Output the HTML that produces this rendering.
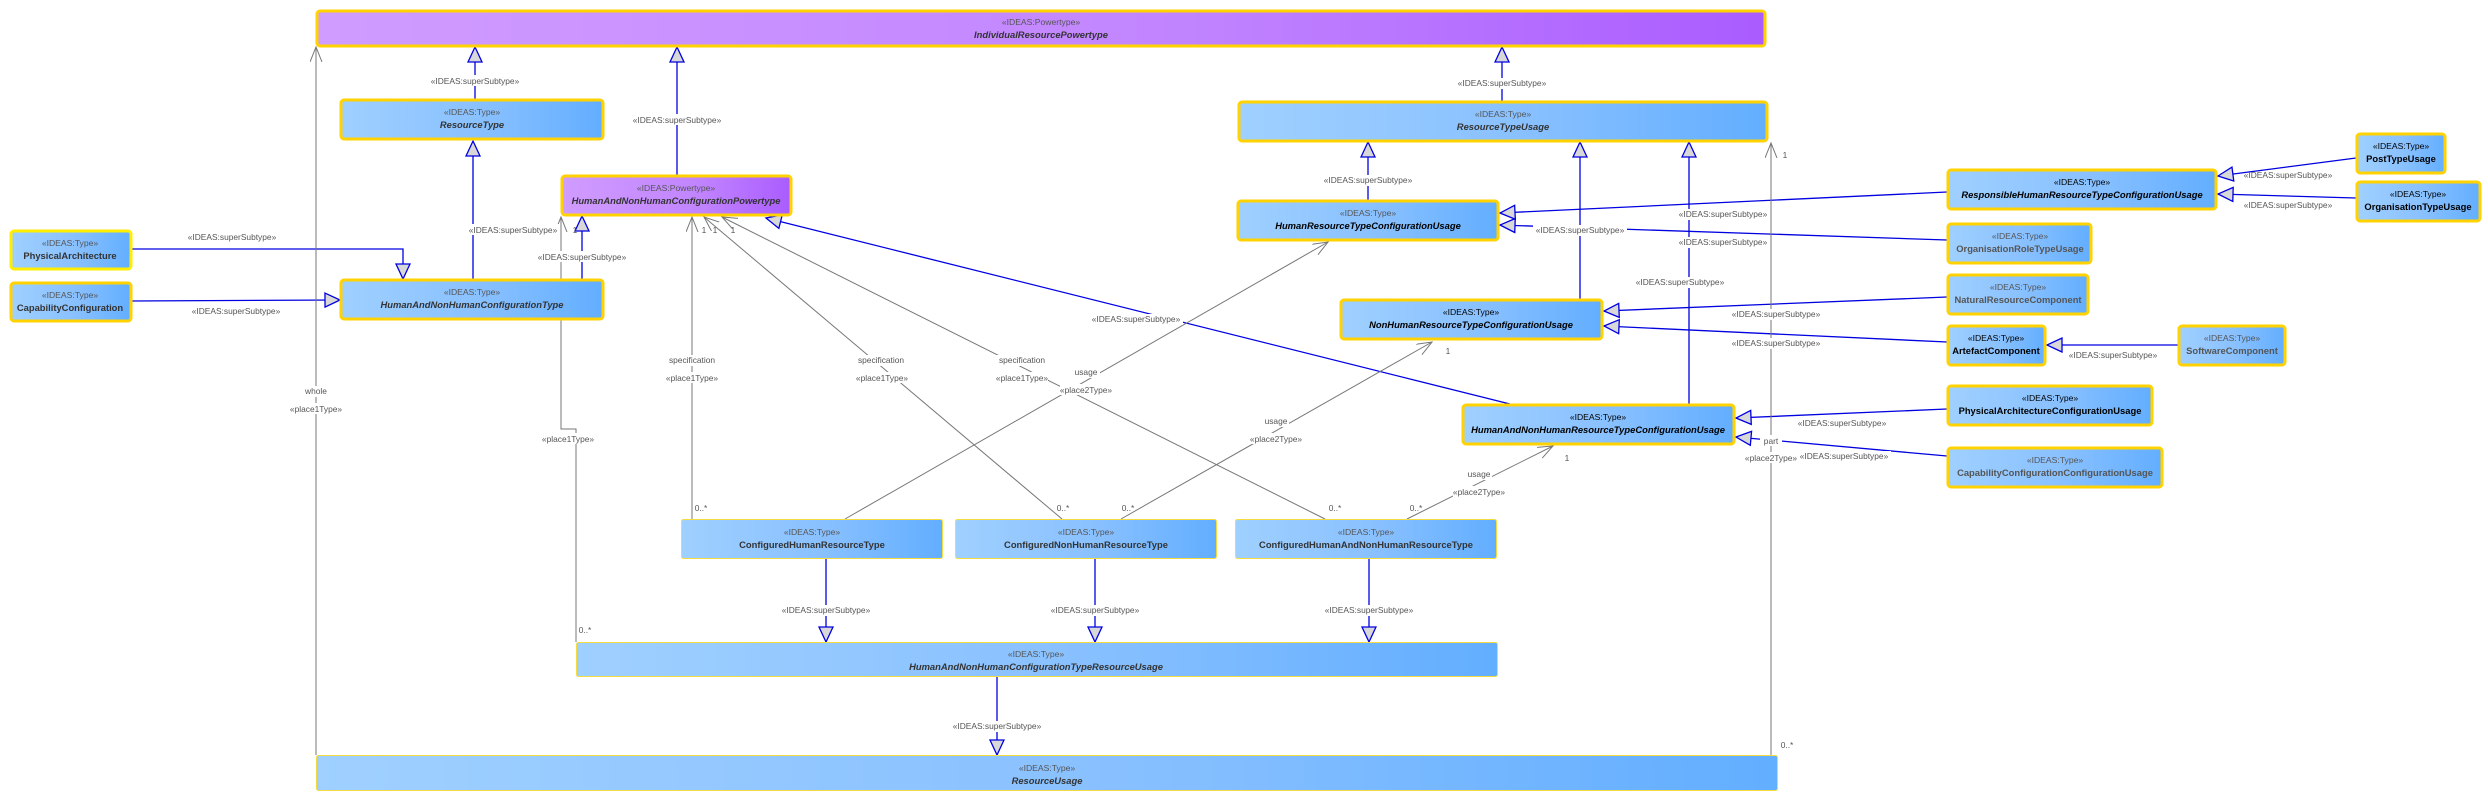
<!DOCTYPE html>
<html><head><meta charset="utf-8"><style>
html,body{margin:0;padding:0;background:#fff;}
svg{display:block;}
text{font-family:"Liberation Sans",sans-serif;}
.st{font-size:8.6px;fill:#555;text-anchor:middle;}
.nm{font-size:9.4px;fill:#333;text-anchor:middle;font-weight:bold;}
.it{font-style:italic;}
.blk{fill:#000;}
.lb{font-size:8.4px;fill:#555;text-anchor:middle;}
.g{stroke:#0000e0;stroke-width:1.3;fill:none;}
.a{stroke:#777;stroke-width:1;fill:none;}
</style></head><body>
<svg width="2488" height="801" viewBox="0 0 2488 801" xmlns="http://www.w3.org/2000/svg">
<defs>
<linearGradient id="bl" x1="0" x2="1" y1="0" y2="0"><stop offset="0" stop-color="#9fd0ff"/><stop offset="0.55" stop-color="#88c0ff"/><stop offset="1" stop-color="#62aeff"/></linearGradient>
<linearGradient id="pu" x1="0" x2="1" y1="0" y2="0"><stop offset="0" stop-color="#d09cff"/><stop offset="0.6" stop-color="#c184ff"/><stop offset="1" stop-color="#aa5cff"/></linearGradient>
<marker id="tri" markerUnits="userSpaceOnUse" markerWidth="20" markerHeight="18" refX="16" refY="8" orient="auto"><path d="M1,1 L16,8 L1,15 z" fill="#d8d8d8" stroke="#0000e0" stroke-width="1.3"/></marker>
<marker id="opn" markerUnits="userSpaceOnUse" markerWidth="18" markerHeight="14" refX="15" refY="6" orient="auto"><path d="M0,0 L15,6 L0,12" fill="none" stroke="#777" stroke-width="1"/></marker>
</defs>

<!-- generalizations -->
<g class="g" marker-end="url(#tri)">
<line x1="475" y1="99" x2="475" y2="47"/>
<line x1="677" y1="175" x2="677" y2="47"/>
<line x1="473" y1="279" x2="473" y2="141"/>
<polyline points="131,249 403,249 403,279"/>
<line x1="131" y1="301" x2="340" y2="300"/>
<line x1="582" y1="279" x2="582" y2="216"/>
<line x1="1502" y1="101" x2="1502" y2="47"/>
<line x1="1368" y1="200" x2="1368" y2="142"/>
<line x1="1580" y1="299" x2="1580" y2="142"/>
<line x1="1689" y1="404" x2="1689" y2="142"/>
<line x1="1510" y1="404" x2="766" y2="218"/>
<line x1="1947" y1="192" x2="1500" y2="213"/>
<line x1="1947" y1="240" x2="1500" y2="225"/>
<line x1="1947" y1="297" x2="1604" y2="311"/>
<line x1="1947" y1="342" x2="1604" y2="326"/>
<line x1="2178" y1="345" x2="2047" y2="345"/>
<line x1="2356" y1="158" x2="2218" y2="176"/>
<line x1="2356" y1="198" x2="2218" y2="194"/>
<line x1="1947" y1="409" x2="1736" y2="418"/>
<line x1="1947" y1="456" x2="1736" y2="437"/>
<line x1="826" y1="559" x2="826" y2="642"/>
<line x1="1095" y1="559" x2="1095" y2="642"/>
<line x1="1369" y1="559" x2="1369" y2="642"/>
<line x1="997" y1="676" x2="997" y2="755"/>
</g>

<!-- associations -->
<g class="a" marker-end="url(#opn)">
<line x1="316" y1="755" x2="316" y2="47"/>
<polyline points="576,642 576,429 561,429 561,217"/>
<line x1="692" y1="519" x2="692" y2="217"/>
<line x1="1062" y1="519" x2="704" y2="217"/>
<line x1="1325" y1="519" x2="722" y2="217"/>
<line x1="845" y1="519" x2="1328" y2="242"/>
<line x1="1121" y1="519" x2="1432" y2="342"/>
<line x1="1407" y1="519" x2="1553" y2="446"/>
<line x1="1771" y1="755" x2="1771" y2="143"/>
</g>

<!-- boxes -->
<g stroke="#ffd200" stroke-width="3">
<rect x="317" y="11" width="1448" height="35" rx="3" fill="url(#pu)"/>
<rect x="341" y="100" width="262" height="39" rx="3" fill="url(#bl)"/>
<rect x="562" y="176" width="229" height="39" rx="3" fill="url(#pu)"/>
<rect x="11" y="231" width="120" height="38" rx="3" fill="url(#bl)" stroke="#ffee00"/>
<rect x="11" y="283" width="120" height="38" rx="3" fill="url(#bl)"/>
<rect x="341" y="280" width="262" height="39" rx="3" fill="url(#bl)"/>
<rect x="1239" y="102" width="528" height="39" rx="3" fill="url(#bl)"/>
<rect x="1238" y="201" width="260" height="39" rx="3" fill="url(#bl)"/>
<rect x="1341" y="300" width="261" height="39" rx="3" fill="url(#bl)"/>
<rect x="1463" y="405" width="271" height="39" rx="3" fill="url(#bl)"/>
<rect x="1948" y="170" width="268" height="39" rx="3" fill="url(#bl)"/>
<rect x="2357" y="134" width="88" height="39" rx="3" fill="url(#bl)"/>
<rect x="2357" y="182" width="123" height="39" rx="3" fill="url(#bl)"/>
<rect x="1948" y="224" width="143" height="39" rx="3" fill="url(#bl)"/>
<rect x="1948" y="275" width="140" height="39" rx="3" fill="url(#bl)"/>
<rect x="1948" y="326" width="97" height="39" rx="3" fill="url(#bl)"/>
<rect x="2179" y="326" width="106" height="39" rx="3" fill="url(#bl)"/>
<rect x="1948" y="386" width="204" height="39" rx="3" fill="url(#bl)"/>
<rect x="1948" y="448" width="214" height="39" rx="3" fill="url(#bl)"/>
</g>
<g stroke="#f4dc40" stroke-width="1">
<rect x="681.5" y="519.5" width="261" height="39" rx="2" fill="url(#bl)"/>
<rect x="955.5" y="519.5" width="261" height="39" rx="2" fill="url(#bl)"/>
<rect x="1235.5" y="519.5" width="261" height="39" rx="2" fill="url(#bl)"/>
<rect x="576.5" y="642.5" width="921" height="34" rx="2" fill="url(#bl)"/>
<rect x="316.5" y="755.5" width="1461" height="35" rx="2" fill="url(#bl)"/>
</g>

<!-- box texts -->
<text class="st" x="1041" y="25">«IDEAS:Powertype»</text><text class="nm it" x="1041" y="38">IndividualResourcePowertype</text>
<text class="st" x="472" y="115">«IDEAS:Type»</text><text class="nm it" x="472" y="128">ResourceType</text>
<text class="st" x="676" y="191">«IDEAS:Powertype»</text><text class="nm it" x="676" y="204">HumanAndNonHumanConfigurationPowertype</text>
<text class="st" x="70" y="246">«IDEAS:Type»</text><text class="nm" x="70" y="259">PhysicalArchitecture</text>
<text class="st" x="70" y="298">«IDEAS:Type»</text><text class="nm" x="70" y="311">CapabilityConfiguration</text>
<text class="st" x="472" y="295">«IDEAS:Type»</text><text class="nm it" x="472" y="308">HumanAndNonHumanConfigurationType</text>
<text class="st" x="1503" y="117">«IDEAS:Type»</text><text class="nm it" x="1503" y="130">ResourceTypeUsage</text>
<text class="st" x="1368" y="216">«IDEAS:Type»</text><text class="nm it blk" x="1368" y="229">HumanResourceTypeConfigurationUsage</text>
<text class="st blk" x="1471" y="315">«IDEAS:Type»</text><text class="nm it blk" x="1471" y="328">NonHumanResourceTypeConfigurationUsage</text>
<text class="st blk" x="1598" y="420">«IDEAS:Type»</text><text class="nm it blk" x="1598" y="433">HumanAndNonHumanResourceTypeConfigurationUsage</text>
<text class="st blk" x="2082" y="185">«IDEAS:Type»</text><text class="nm it blk" x="2082" y="198">ResponsibleHumanResourceTypeConfigurationUsage</text>
<text class="st blk" x="2401" y="149">«IDEAS:Type»</text><text class="nm blk" x="2401" y="162">PostTypeUsage</text>
<text class="st blk" x="2418" y="197">«IDEAS:Type»</text><text class="nm blk" x="2418" y="210">OrganisationTypeUsage</text>
<text class="st" x="2020" y="239">«IDEAS:Type»</text><text class="nm" x="2020" y="252" style="fill:#555">OrganisationRoleTypeUsage</text>
<text class="st" x="2018" y="290">«IDEAS:Type»</text><text class="nm" x="2018" y="303" style="fill:#555">NaturalResourceComponent</text>
<text class="st blk" x="1996" y="341">«IDEAS:Type»</text><text class="nm blk" x="1996" y="354">ArtefactComponent</text>
<text class="st" x="2232" y="341">«IDEAS:Type»</text><text class="nm" x="2232" y="354" style="fill:#555">SoftwareComponent</text>
<text class="st blk" x="2050" y="401">«IDEAS:Type»</text><text class="nm blk" x="2050" y="414">PhysicalArchitectureConfigurationUsage</text>
<text class="st" x="2055" y="463">«IDEAS:Type»</text><text class="nm" x="2055" y="476" style="fill:#555">CapabilityConfigurationConfigurationUsage</text>
<text class="st" x="812" y="535">«IDEAS:Type»</text><text class="nm" x="812" y="548">ConfiguredHumanResourceType</text>
<text class="st" x="1086" y="535">«IDEAS:Type»</text><text class="nm" x="1086" y="548">ConfiguredNonHumanResourceType</text>
<text class="st" x="1366" y="535">«IDEAS:Type»</text><text class="nm" x="1366" y="548">ConfiguredHumanAndNonHumanResourceType</text>
<text class="st" x="1036" y="657">«IDEAS:Type»</text><text class="nm it" x="1036" y="670">HumanAndNonHumanConfigurationTypeResourceUsage</text>
<text class="st" x="1047" y="771">«IDEAS:Type»</text><text class="nm it" x="1047" y="784">ResourceUsage</text>

<!-- connector labels -->
<g class="lb">
<rect x="428" y="75" width="94" height="11" fill="#fff"/><text x="475" y="84">«IDEAS:superSubtype»</text>
<rect x="630" y="114" width="94" height="11" fill="#fff"/><text x="677" y="123">«IDEAS:superSubtype»</text>
<text x="232" y="240">«IDEAS:superSubtype»</text>
<text x="236" y="314">«IDEAS:superSubtype»</text>
<rect x="470" y="224" width="90" height="11" fill="#fff"/><text x="513" y="233">«IDEAS:superSubtype»</text>
<rect x="536" y="251" width="94" height="11" fill="#fff"/><text x="582" y="260">«IDEAS:superSubtype»</text>
<text x="575" y="233">1</text>
<text x="704" y="233">1</text><text x="715" y="233">1</text><text x="733" y="233">1</text>
<rect x="1455" y="78" width="94" height="11" fill="#fff"/><text x="1502" y="86">«IDEAS:superSubtype»</text>
<rect x="1321" y="175" width="94" height="11" fill="#fff"/><text x="1368" y="183">«IDEAS:superSubtype»</text>
<rect x="1533" y="225" width="94" height="11" fill="#fff"/><text x="1580" y="233">«IDEAS:superSubtype»</text>
<rect x="1676" y="209" width="94" height="11" fill="#fff"/><text x="1723" y="217">«IDEAS:superSubtype»</text>
<rect x="1676" y="237" width="94" height="11" fill="#fff"/><text x="1723" y="245">«IDEAS:superSubtype»</text>
<rect x="1633" y="277" width="94" height="11" fill="#fff"/><text x="1680" y="285">«IDEAS:superSubtype»</text>
<rect x="1729" y="309" width="94" height="11" fill="#fff"/><text x="1776" y="317">«IDEAS:superSubtype»</text>
<rect x="1729" y="338" width="94" height="11" fill="#fff"/><text x="1776" y="346">«IDEAS:superSubtype»</text>
<text x="2113" y="358">«IDEAS:superSubtype»</text>
<text x="2288" y="178">«IDEAS:superSubtype»</text>
<text x="2288" y="208">«IDEAS:superSubtype»</text>
<rect x="1795" y="418" width="94" height="11" fill="#fff"/><text x="1842" y="426">«IDEAS:superSubtype»</text>
<rect x="1797" y="451" width="94" height="11" fill="#fff"/><text x="1844" y="459">«IDEAS:superSubtype»</text>
<rect x="1089" y="314" width="94" height="11" fill="#fff"/><text x="1136" y="322">«IDEAS:superSubtype»</text>
<rect x="779" y="605" width="94" height="11" fill="#fff"/><text x="826" y="613">«IDEAS:superSubtype»</text>
<rect x="1048" y="605" width="94" height="11" fill="#fff"/><text x="1095" y="613">«IDEAS:superSubtype»</text>
<rect x="1322" y="605" width="94" height="11" fill="#fff"/><text x="1369" y="613">«IDEAS:superSubtype»</text>
<rect x="950" y="721" width="94" height="11" fill="#fff"/><text x="997" y="729">«IDEAS:superSubtype»</text>
<rect x="300" y="386" width="32" height="11" fill="#fff"/><text x="316" y="394">whole</text>
<rect x="290" y="403" width="52" height="11" fill="#fff"/><text x="316" y="412">«place1Type»</text>
<rect x="542" y="433" width="52" height="11" fill="#fff"/><text x="568" y="442">«place1Type»</text>
<text x="585" y="633">0..*</text>
<rect x="665" y="355" width="54" height="11" fill="#fff"/><text x="692" y="363">specification</text>
<rect x="666" y="372" width="52" height="11" fill="#fff"/><text x="692" y="381">«place1Type»</text>
<text x="701" y="511">0..*</text>
<rect x="855" y="355" width="54" height="11" fill="#fff"/><text x="881" y="363">specification</text>
<rect x="856" y="372" width="52" height="11" fill="#fff"/><text x="882" y="381">«place1Type»</text>
<rect x="995" y="355" width="54" height="11" fill="#fff"/><text x="1022" y="363">specification</text>
<rect x="996" y="372" width="52" height="11" fill="#fff"/><text x="1022" y="381">«place1Type»</text>
<rect x="1074" y="367" width="26" height="11" fill="#fff"/><text x="1086" y="375">usage</text>
<rect x="1060" y="384" width="52" height="11" fill="#fff"/><text x="1086" y="393">«place2Type»</text>
<text x="1063" y="511">0..*</text><text x="1128" y="511">0..*</text>
<rect x="1263" y="416" width="26" height="11" fill="#fff"/><text x="1276" y="424">usage</text>
<rect x="1250" y="433" width="52" height="11" fill="#fff"/><text x="1276" y="442">«place2Type»</text>
<text x="1335" y="511">0..*</text><text x="1416" y="511">0..*</text>
<text x="1448" y="354">1</text>
<rect x="1466" y="469" width="26" height="11" fill="#fff"/><text x="1479" y="477">usage</text>
<rect x="1453" y="486" width="52" height="11" fill="#fff"/><text x="1479" y="495">«place2Type»</text>
<text x="1567" y="461">1</text>
<text x="1785" y="158">1</text>
<rect x="1760" y="435" width="22" height="11" fill="#fff"/><text x="1771" y="444">part</text>
<rect x="1745" y="452" width="52" height="11" fill="#fff"/><text x="1771" y="461">«place2Type»</text>
<text x="1787" y="748">0..*</text>
</g>
</svg>
</body></html>
